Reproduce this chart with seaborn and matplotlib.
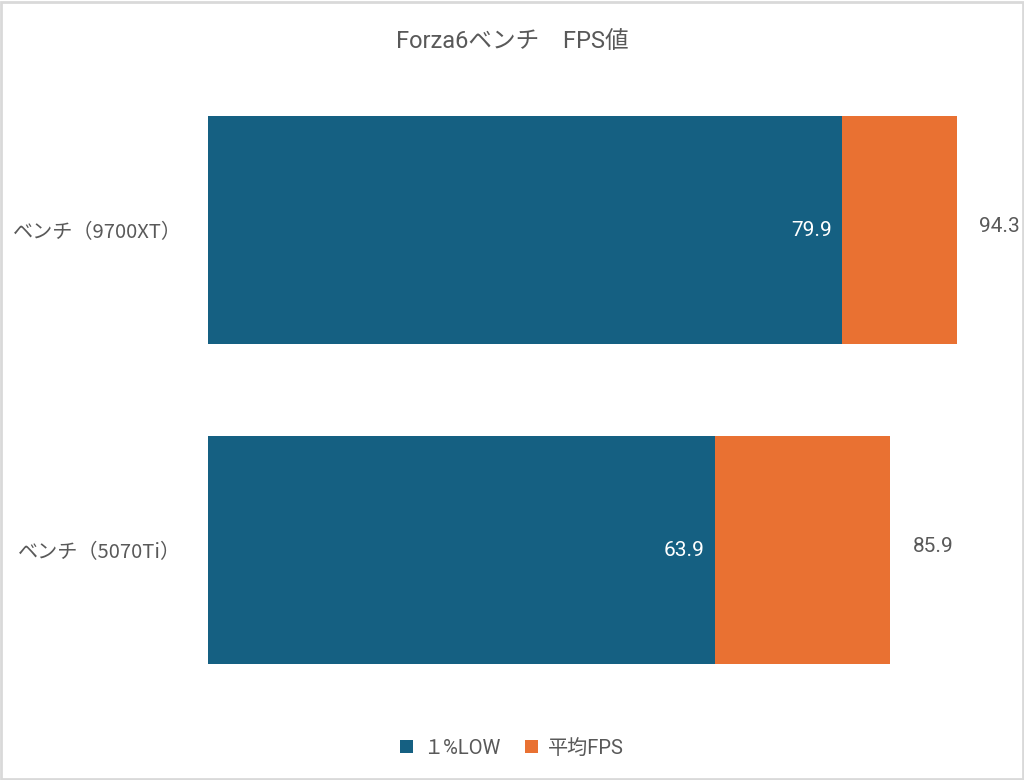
import matplotlib.pyplot as plt
import seaborn as sns
import pandas as pd

# データ
categories = ['ベンチ（9700XT）', 'ベンチ（5070Ti）']
low_1pct = [79.9, 63.9]
avg_fps = [94.3, 85.9]
series_names = ['１%LOW', '平均FPS']

color_low = '#156082'
color_avg = '#E97132'
text_color = '#595959'

sns.set_theme(style='white')
plt.rcParams['font.family'] = ['Roboto', 'Noto Sans CJK JP', 'DejaVu Sans']

df = pd.DataFrame({'カテゴリ': categories, 'low': low_1pct, 'avg': avg_fps})

fig = plt.figure(figsize=(10.24, 7.8), dpi=100)
ax = fig.add_axes([0.203, 0.0897, 0.7754, 0.8205])

# 平均FPSを後ろに、1%LOWを前に重ねる
sns.barplot(data=df, x='avg', y='カテゴリ', orient='h', color=color_avg,
            width=0.71, saturation=1, linewidth=0, ax=ax, label=series_names[1])
sns.barplot(data=df, x='low', y='カテゴリ', orient='h', color=color_low,
            width=0.71, saturation=1, linewidth=0, ax=ax, label=series_names[0])

handles, labels = ax.get_legend_handles_labels()
if ax.legend_ is not None:
    ax.legend_.remove()

ax.set_xlim(0, 100)
ax.set_ylim(1.5, -0.5)
ax.set_xlabel('')
ax.set_ylabel('')
ax.set_xticks([])
sns.despine(ax=ax, left=True, bottom=True)
ax.tick_params(axis='y', length=0, pad=19, labelsize=14.5, labelcolor=text_color)
for lbl in ax.get_yticklabels():
    lbl.set_family(['Noto Sans CJK JP', 'DejaVu Sans'])

# 値ラベル
for i, (lo, av) in enumerate(zip(low_1pct, avg_fps)):
    ax.text(lo - 1.3, i, f'{lo}', ha='right', va='center', color='white', fontsize=15)
    ax.text(av + 5.4, i - 0.01, f'{av}', ha='center', va='center', color=text_color,
            fontsize=15, clip_on=False)

fig.suptitle('Forza6ベンチ　FPS値', y=0.962, fontsize=17, color=text_color)

order = [labels.index(n) for n in series_names]
leg = fig.legend([handles[k] for k in order], [labels[k] for k in order],
                 loc='center', bbox_to_anchor=(0.5, 0.041), ncol=2, frameon=False,
                 fontsize=14.5, handlelength=0.65, handleheight=0.65,
                 handletextpad=0.5, columnspacing=1.2)
for t in leg.get_texts():
    t.set_color(text_color)

# 外枠
fig.patches.append(plt.Rectangle((0.001, 0.001), 0.998, 0.997, transform=fig.transFigure,
                                 fill=False, edgecolor='#D9D9D9', linewidth=2))

fig.savefig('out.png', dpi=100)
